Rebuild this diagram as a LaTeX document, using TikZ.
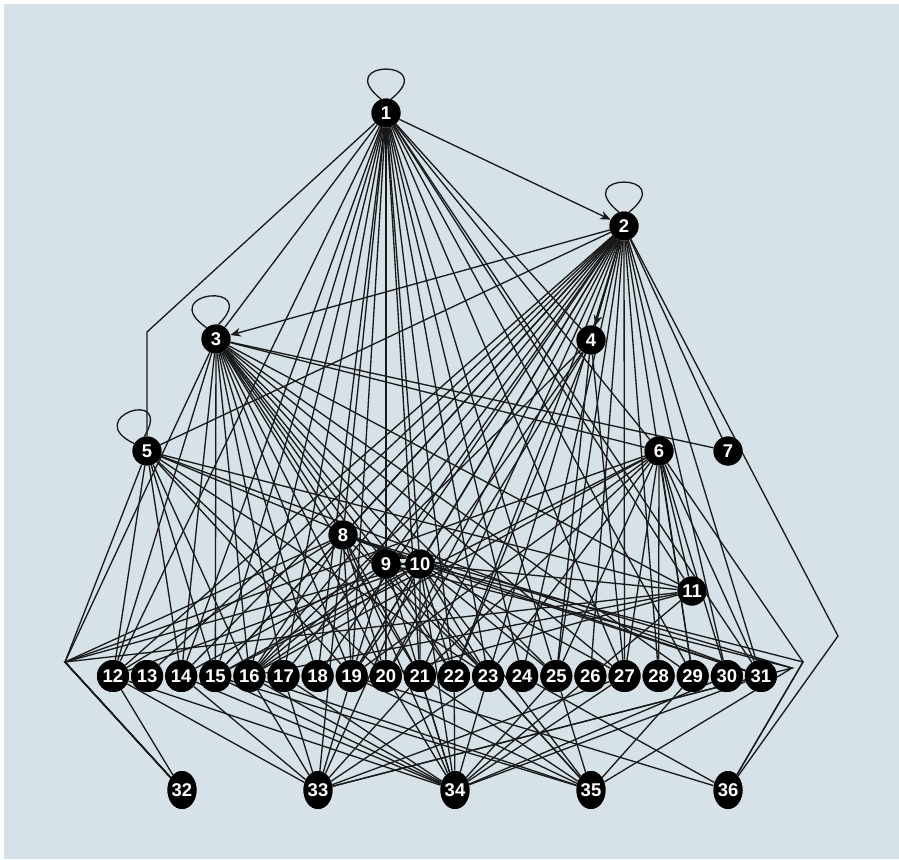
\documentclass[tikz,border=0pt]{standalone}
\usepackage{fontspec}
\newfontfamily\lblfont{Liberation Sans}
\usetikzlibrary{arrows.meta,shapes.geometric}
\definecolor{panel}{HTML}{D6E1E8}
\tikzset{
  vtx/.style={shape=circle,fill=black,text=white,inner sep=0pt,minimum size=0.58cm,font=\lblfont\bfseries\fontsize{10.5}{12}\selectfont},
  leaf/.style={vtx,minimum size=0.64cm},
  sink/.style={shape=ellipse,fill=black,text=white,inner sep=0pt,minimum width=0.58cm,minimum height=0.76cm,font=\lblfont\bfseries\fontsize{10.5}{12}\selectfont},
  link/.style={draw=black!90,line width=0.75pt},
  tip/.style={link,-{Stealth[length=6pt,width=5pt]}}
}
\begin{document}
\begin{tikzpicture}[x=0.02cm,y=-0.02cm]
    \useasboundingbox (0,0) rectangle (899,859);
    \fill[white] (0,0) rectangle (899,859);
    \fill[panel] (4,4) rectangle (899,859);
    % top part
    \node[vtx] (1) at (386,113) {1};
    \node[vtx] (2) at (624,226) {2};
    \node[vtx] (3) at (216,339) {3};
    \node[vtx] (4) at (591,340) {4};
    \node[vtx] (5) at (147,451) {5};
    \node[vtx] (6) at (659,451) {6};
    \node[vtx] (7) at (728,451) {7};
    \node[vtx] (8) at (343,535) {8};
    \node[vtx] (9) at (386,564) {9};
    \node[vtx] (10) at (420,564) {10};
    \node[vtx] (11) at (692,591) {11};
    % bottom row
    \foreach \n [count=\i from 0] in {12,...,31}
        \node[leaf] (\n) at (113+34.1*\i,676) {\n};
    \node[sink] (32) at (182,790) {32};
    \node[sink] (33) at (318,790) {33};
    \node[sink] (34) at (455,790) {34};
    \node[sink] (35) at (591,790) {35};
    \node[sink] (36) at (728,790) {36};
    % bend points
    \coordinate (bl) at (65,662);
    \coordinate (bt) at (147,332);
    \coordinate (br) at (838,636);
    \coordinate (bra) at (803,662);
    \coordinate (brb) at (792,668);
    % self loops
    \draw[link] (1.110) .. controls +(-50,-40) and +(50,-40) .. (1.70);
    \draw[link] (2.110) .. controls +(-50,-40) and +(50,-40) .. (2.70);
    \draw[link] (3.130) .. controls +(-52,-36) and +(44,-44) .. (3.80);
    \draw[link] (5.150) .. controls +(-54,-26) and +(30,-50) .. (5.100);
    % edges
    \foreach \t in {3,4,6,8,9,10,11,12,14,15,16,17,18,19,20,21,22,23,24,25,27,29,31}
        \draw[link] (1) -- (\t);
    \draw[tip] (1) -- (2);
    \draw[link] (1) -- (bt) -- (5);
    \foreach \t in {5,7,8,9,10,12,13,14,15,16,17,18,19,20,21,22,23,24,25,26,27,28,29,30,31}
        \draw[link] (2) -- (\t);
    \draw[tip] (2) -- (3);
    \draw[tip] (2) -- (4);
    \draw[link] (2) -- (br) -- (36);
    \foreach \t in {6,7,8,9,10,11,12,14,15,16,17,18,19,20,21,22,23,25,27,29}
        \draw[link] (3) -- (\t);
    \foreach \t in {16,19,20,22,25,27}
        \draw[link] (4) -- (\t);
    \draw[tip] (4) -- (2);
    \foreach \t in {10,11,12,14,15,16,19,20,23,31}
        \draw[link] (5) -- (\t);
    \foreach \t in {11,15,16,19,21,23,25,27,28,29,30,31}
        \draw[link] (6) -- (\t);
    \foreach \t in {12,15,16,19,20,21,23,31,33,34}
        \draw[link] (8) -- (\t);
    \draw[tip] (8) -- (10);
    \foreach \t in {14,16,19,20,22,34,35}
        \draw[link] (9) -- (\t);
    \draw[link,{Stealth[length=4pt]}-{Stealth[length=4pt]}] (9) -- (10);
    \foreach \t in {11,12,15,16,19,21,22,23,25,27,31,33,34,35}
        \draw[link] (10) -- (\t);
    \foreach \t in {16,20,34}
        \draw[link] (11) -- (\t);
    % routed edges
    \foreach \s in {5,3,8,10,11,6}
        \draw[link] (\s) -- (bl) -- (32);
    \draw[link] (10) -- (bra) -- (36);
    \draw[link] (6) -- (bra) -- (36);
    \draw[link] (8) -- (brb) -- (35);
    \draw[link] (9) -- (brb) -- (33);
    % bottom edges
    \foreach \s/\t in {12/32,12/33,12/34,14/33,14/34,15/34,15/35,16/33,16/34,16/35,
        17/33,17/34,19/33,19/35,19/36,20/34,21/33,21/34,21/35,22/34,23/33,23/34,
        23/35,24/36,25/34,25/35,27/33,27/34,29/35,30/34,31/33,31/34}
        \draw[link] (\s) -- (\t);
    % redraw nodes on top
    \foreach \n in {1,...,11}
        \node[vtx] at (\n) {\n};
    \foreach \n in {12,...,31}
        \node[leaf] at (\n) {\n};
    \foreach \n in {32,...,36}
        \node[sink] at (\n) {\n};
\end{tikzpicture}
\end{document}
